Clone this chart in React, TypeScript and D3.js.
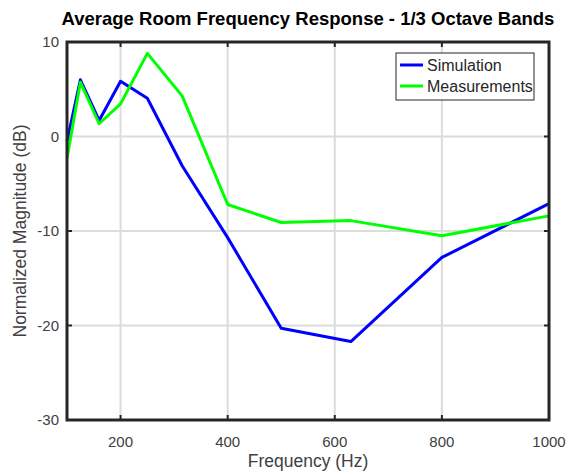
import React from "react";
import * as d3 from "d3";

const freqs = [100, 125, 160, 200, 250, 315, 400, 500, 630, 800, 1000];
const simulation = [-0.5, 6.0, 1.7, 5.85, 4.05, -3.1, -10.7, -20.3, -21.7, -12.8, -7.1];
const measurements = [-2.3, 5.75, 1.35, 3.45, 8.8, 4.3, -7.2, -9.1, -8.9, -10.5, -8.4];
const xTicks = [200, 400, 600, 800, 1000];
const yTicks = [-30, -20, -10, 0, 10];
const seriesNames = ["Simulation", "Measurements"];
const seriesColors = ["#0000ff", "#00ff00"];

const W = 569, H = 475;
const L = 67, R = 549, T = 42, B = 420;

export default function App() {
  const x = d3.scaleLinear().domain([100, 1000]).range([L, R]);
  const y = d3.scaleLinear().domain([-30, 10]).range([B, T]);
  const line = d3.line<number>().x((_, i) => x(freqs[i])).y((d) => y(d));
  const series = [simulation, measurements];
  const font = "'Liberation Sans', Arial, Helvetica, sans-serif";
  return (
    <svg width={W} height={H} style={{ position: "absolute", left: 0, top: 0, background: "#fff" }} fontFamily={font}>
      <rect x={0} y={0} width={W} height={H} fill="#fff" />
      {xTicks.map((t) => (
        <line key={"gx" + t} x1={x(t)} x2={x(t)} y1={T} y2={B} stroke="#dcdcdc" strokeWidth={2} />
      ))}
      {yTicks.map((t) => (
        <line key={"gy" + t} x1={L} x2={R} y1={y(t)} y2={y(t)} stroke="#dcdcdc" strokeWidth={2} />
      ))}
      {xTicks.map((t) => (
        <g key={"tx" + t}>
          <line x1={x(t)} x2={x(t)} y1={B} y2={B - 5} stroke="#262626" strokeWidth={2} />
          <line x1={x(t)} x2={x(t)} y1={T} y2={T + 5} stroke="#262626" strokeWidth={2} />
          <text x={x(t)} y={447} textAnchor="middle" fontSize={15} fill="#404040">{t}</text>
        </g>
      ))}
      {yTicks.map((t) => (
        <g key={"ty" + t}>
          <line x1={L} x2={L + 5} y1={y(t)} y2={y(t)} stroke="#262626" strokeWidth={2} />
          <line x1={R} x2={R - 5} y1={y(t)} y2={y(t)} stroke="#262626" strokeWidth={2} />
          <text x={59} y={y(t) + 5} textAnchor="end" fontSize={15} fill="#404040">{t}</text>
        </g>
      ))}
      {series.map((s, i) => (
        <path key={"s" + i} d={line(s) || ""} fill="none" stroke={seriesColors[i]} strokeWidth={3} strokeLinejoin="round" />
      ))}
      <rect x={L} y={T} width={R - L} height={B - T} fill="none" stroke="#262626" strokeWidth={3} />
      <g>
        <rect x={396} y={53} width={138} height={47} fill="#fff" stroke="#262626" strokeWidth={1} />
        {seriesNames.map((n, i) => (
          <g key={n}>
            <line x1={400} x2={423} y1={65 + i * 21} y2={65 + i * 21} stroke={seriesColors[i]} strokeWidth={3} />
            <text x={427} y={70.5 + i * 21} fontSize={16} fill="#262626">{n}</text>
          </g>
        ))}
      </g>
      <text x={(L + R) / 2} y={25} textAnchor="middle" fontSize={18.5} fontWeight="bold" fill="#000">
        Average Room Frequency Response - 1/3 Octave Bands
      </text>
      <text x={(L + R) / 2} y={467} textAnchor="middle" fontSize={17.5} fill="#404040">Frequency (Hz)</text>
      <text transform={`translate(26, ${(T + B) / 2}) rotate(-90)`} textAnchor="middle" fontSize={17.5} fill="#404040">
        Normalized Magnitude (dB)
      </text>
    </svg>
  );
}
